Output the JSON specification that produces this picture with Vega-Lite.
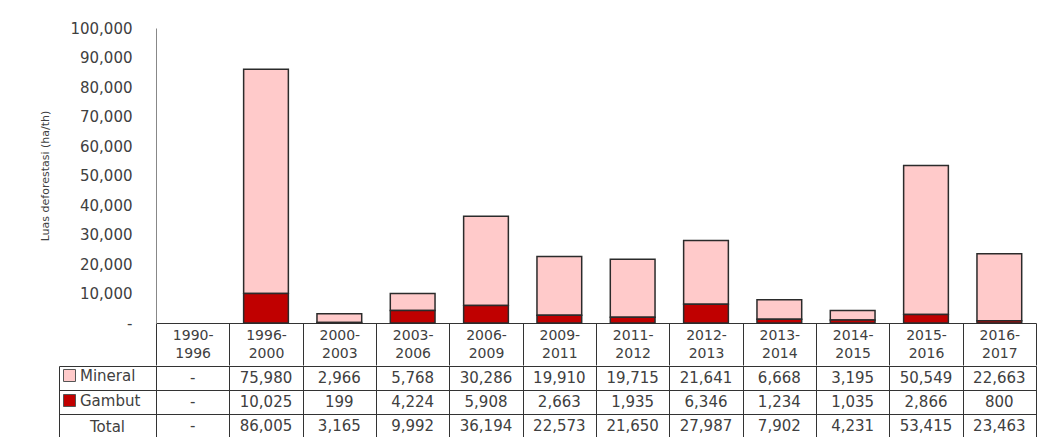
{
  "$schema": "https://vega.github.io/schema/vega-lite/v6.json",
  "padding": {"left": 39, "top": 21, "right": 5, "bottom": 0},
  "background": "white",
  "config": {
    "font": "DejaVu Sans",
    "view": {"stroke": null},
    "axis": {"labelFont": "DejaVu Sans", "titleFont": "DejaVu Sans", "labelColor": "#404040", "titleColor": "#404040"},
    "legend": {"labelFont": "DejaVu Sans"}
  },
  "datasets": {
    "deforestasi": [
      {"period": "1990-1996", "series": "Mineral", "value": 0},
      {"period": "1990-1996", "series": "Gambut", "value": 0},
      {"period": "1990-1996", "series": "Total", "value": 0},
      {"period": "1996-2000", "series": "Mineral", "value": 75980},
      {"period": "1996-2000", "series": "Gambut", "value": 10025},
      {"period": "1996-2000", "series": "Total", "value": 86005},
      {"period": "2000-2003", "series": "Mineral", "value": 2966},
      {"period": "2000-2003", "series": "Gambut", "value": 199},
      {"period": "2000-2003", "series": "Total", "value": 3165},
      {"period": "2003-2006", "series": "Mineral", "value": 5768},
      {"period": "2003-2006", "series": "Gambut", "value": 4224},
      {"period": "2003-2006", "series": "Total", "value": 9992},
      {"period": "2006-2009", "series": "Mineral", "value": 30286},
      {"period": "2006-2009", "series": "Gambut", "value": 5908},
      {"period": "2006-2009", "series": "Total", "value": 36194},
      {"period": "2009-2011", "series": "Mineral", "value": 19910},
      {"period": "2009-2011", "series": "Gambut", "value": 2663},
      {"period": "2009-2011", "series": "Total", "value": 22573},
      {"period": "2011-2012", "series": "Mineral", "value": 19715},
      {"period": "2011-2012", "series": "Gambut", "value": 1935},
      {"period": "2011-2012", "series": "Total", "value": 21650},
      {"period": "2012-2013", "series": "Mineral", "value": 21641},
      {"period": "2012-2013", "series": "Gambut", "value": 6346},
      {"period": "2012-2013", "series": "Total", "value": 27987},
      {"period": "2013-2014", "series": "Mineral", "value": 6668},
      {"period": "2013-2014", "series": "Gambut", "value": 1234},
      {"period": "2013-2014", "series": "Total", "value": 7902},
      {"period": "2014-2015", "series": "Mineral", "value": 3195},
      {"period": "2014-2015", "series": "Gambut", "value": 1035},
      {"period": "2014-2015", "series": "Total", "value": 4231},
      {"period": "2015-2016", "series": "Mineral", "value": 50549},
      {"period": "2015-2016", "series": "Gambut", "value": 2866},
      {"period": "2015-2016", "series": "Total", "value": 53415},
      {"period": "2016-2017", "series": "Mineral", "value": 22663},
      {"period": "2016-2017", "series": "Gambut", "value": 800},
      {"period": "2016-2017", "series": "Total", "value": 23463}
    ]
  },
  "spacing": -7,
  "resolve": {"scale": {"x": "independent", "y": "independent"}},
  "vconcat": [
    {
      "width": 880,
      "height": 295,
      "data": {"name": "deforestasi"},
      "transform": [{"filter": "datum.series != 'Total' && datum.value > 0"}],
      "mark": {"type": "bar", "stroke": "#2b2b2b", "strokeWidth": 1.5, "width": {"band": 0.61}},
      "encoding": {
        "x": {
          "field": "period", "type": "nominal", "sort": null,
          "scale": {
            "type": "band", "paddingInner": 0, "paddingOuter": 0,
            "domain": ["1990-1996", "1996-2000", "2000-2003", "2003-2006", "2006-2009", "2009-2011", "2011-2012", "2012-2013", "2013-2014", "2014-2015", "2015-2016", "2016-2017"]
          },
          "axis": {
            "title": null, "labelAngle": 0, "tickBand": "extent", "tickSize": 42,
            "tickColor": "#333", "domainColor": "#333", "labelPadding": -37,
            "labelBaseline": "top", "labelFontSize": 14, "labelLineHeight": 18,
            "labelOverlap": false,
            "labelExpr": "[slice(datum.label, 0, 5), slice(datum.label, 5)]"
          }
        },
        "y": {
          "field": "value", "type": "quantitative", "stack": "zero",
          "scale": {"domain": [0, 100000], "nice": false},
          "axis": {
            "title": "Luas deforestasi (ha/th)",
            "values": [0, 10000, 20000, 30000, 40000, 50000, 60000, 70000, 80000, 90000, 100000],
            "labelExpr": "datum.value == 0 ? '-' : format(datum.value, ',')",
            "ticks": false, "grid": false, "labelPadding": 24, "labelFontSize": 15,
            "titleFontSize": 11, "titleFontWeight": "normal", "titlePadding": 19,
            "domainColor": "#888"
          }
        },
        "color": {
          "field": "series", "type": "nominal",
          "scale": {"domain": ["Mineral", "Gambut"], "range": ["#FFCACA", "#C00000"]},
          "legend": {
            "orient": "none", "legendX": -94, "legendY": 340, "title": null,
            "symbolType": "square", "symbolSize": 144, "labelFontSize": 15,
            "rowPadding": 8, "symbolStrokeColor": "#555", "symbolStrokeWidth": 1,
            "labelOffset": 3, "labelColor": "#404040", "symbolOpacity": 1
          }
        },
        "order": {"field": "series", "sort": "ascending"}
      }
    },
    {
      "width": 880,
      "height": 72,
      "data": {"name": "deforestasi"},
      "resolve": {"axis": {"y": "independent"}},
      "layer": [
        {
          "mark": {"type": "text", "fontSize": 15, "color": "#404040"},
          "encoding": {
            "x": {
              "field": "period", "type": "nominal", "sort": null,
              "scale": {"type": "band", "paddingInner": 0, "paddingOuter": 0},
              "axis": {
                "title": null, "labels": false, "ticks": false, "domain": false,
                "grid": true, "tickBand": "extent", "gridColor": "#333", "gridOpacity": 1
              }
            },
            "y": {
              "field": "series", "type": "nominal", "sort": ["Mineral", "Gambut", "Total"],
              "scale": {"type": "band", "paddingInner": 0, "paddingOuter": 0},
              "axis": {
                "title": null, "orient": "left", "tickBand": "extent", "tickSize": 97, "tickColor": "#333",
                "domainColor": "#333", "grid": true, "gridColor": "#333", "gridOpacity": 1,
                "labelExpr": "datum.value == 'Total' ? 'Total' : ''",
                "labelAlign": "center", "labelPadding": -48, "labelFontSize": 15
              }
            },
            "text": {
              "condition": {"test": "datum.value == 0", "value": "-"},
              "field": "value", "type": "quantitative", "format": ","
            }
          }
        },
        {
          "mark": {"type": "text", "opacity": 0},
          "encoding": {
            "x": {"field": "period", "type": "nominal", "sort": null},
            "y": {
              "field": "series", "type": "nominal", "sort": ["Mineral", "Gambut", "Total"],
              "axis": {
                "title": null, "orient": "left", "offset": 97, "labels": false, "ticks": false,
                "grid": false, "domain": true, "domainColor": "#333"
              }
            },
            "text": {"value": "-"}
          }
        }
      ]
    }
  ]
}
